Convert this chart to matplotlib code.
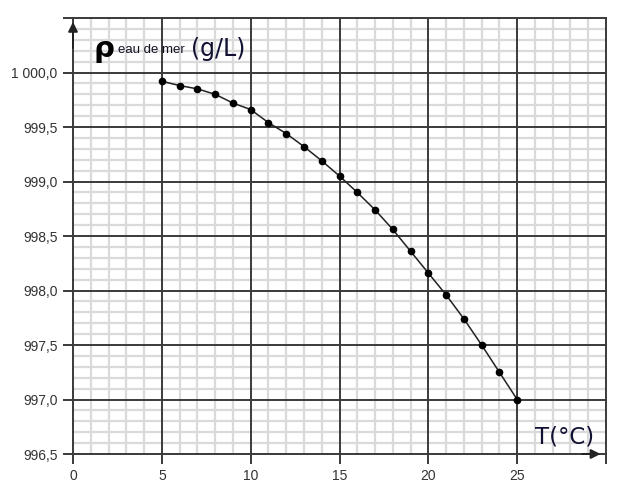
import matplotlib
matplotlib.use("Agg")
import matplotlib.pyplot as plt
import numpy as np
from matplotlib.ticker import MultipleLocator, FuncFormatter

# Data
temperature = [5, 6, 7, 8, 9, 10, 11, 12, 13, 14, 15, 16, 17, 18, 19, 20, 21, 22, 23, 24, 25]
density = [999.92, 999.88, 999.85, 999.80, 999.72, 999.66, 999.54, 999.44, 999.32, 999.19,
           999.05, 998.90, 998.74, 998.56, 998.36, 998.16, 997.96, 997.74, 997.50, 997.25, 997.00]
x_tick_labels = ["0", "5", "10", "15", "20", "25"]
y_tick_labels = ["996,5", "997,0", "997,5", "998,0", "998,5", "999,0", "999,5", "1 000,0"]

fig = plt.figure(figsize=(6.21, 4.86), dpi=100)
ax = fig.add_axes([73/621, 1-454/486, (606-73)/621, (454-18)/486])
ax.set_xlim(0, 30)
ax.set_ylim(996.5, 1000.5)

ax.xaxis.set_major_locator(MultipleLocator(5))
ax.yaxis.set_major_locator(MultipleLocator(0.5))

def xfmt(v, pos):
    i = int(round(v / 5))
    return x_tick_labels[i] if 0 <= i < len(x_tick_labels) and abs(v - 5*i) < 1e-6 else ""

def yfmt(v, pos):
    i = int(round((v - 996.5) / 0.5))
    return y_tick_labels[i] if 0 <= i < len(y_tick_labels) else ""

ax.xaxis.set_major_formatter(FuncFormatter(xfmt))
ax.yaxis.set_major_formatter(FuncFormatter(yfmt))

# grid: minor light first, then major dark on top
for xv in np.arange(1, 30, 1):
    if xv % 5:
        ax.axvline(xv, color="#dadada", linewidth=1.6, zorder=0.5)
for yv in np.arange(996.6, 1000.5, 0.1):
    if abs((yv - 996.5) / 0.5 - round((yv - 996.5) / 0.5)) > 1e-6:
        ax.axhline(yv, color="#dadada", linewidth=1.6, zorder=0.5)
for xv in np.arange(5, 30, 5):
    ax.axvline(xv, color="#3a3a3a", linewidth=1.4, zorder=1)
for yv in np.arange(997.0, 1000.5, 0.5):
    ax.axhline(yv, color="#3a3a3a", linewidth=1.4, zorder=1)

for s in ax.spines.values():
    s.set_color("#3a3a3a")
    s.set_linewidth(1.4)

ax.tick_params(which="major", length=7, width=1.4, color="#3a3a3a",
               labelsize=10, labelcolor="#333333", pad=4)
for lab in ax.get_xticklabels() + ax.get_yticklabels():
    lab.set_fontfamily("Liberation Sans")

ax.plot(temperature, density, color="#222222", linewidth=1.1, marker="o",
        markersize=4.5, markerfacecolor="black", markeredgecolor="black", zorder=3)

# axis arrows
ax.annotate("", xy=(0, 1000.49), xytext=(0, 1000.2),
            arrowprops=dict(arrowstyle="-|>", color="#222222", lw=1.4, mutation_scale=14),
            annotation_clip=False)
ax.annotate("", xy=(29.85, 996.5), xytext=(28.5, 996.5),
            arrowprops=dict(arrowstyle="-|>", color="#222222", lw=1.4, mutation_scale=14),
            annotation_clip=False)

# labels
fig.text(94/621, 1-57/486, "ρ", fontsize=21, fontweight="bold", color="black",
         family="DejaVu Sans")
fig.text(118/621, 1-53/486, "eau de mer", fontsize=9.5, color="#111122",
         family="Liberation Sans")
fig.text(191/621, 1-56/486, "(g/L)", fontsize=17, color="#111133",
         family="DejaVu Sans")
fig.text(535/621, 1-443/486, "T(°C)", fontsize=16.5, color="#111133",
         family="DejaVu Sans")

fig.savefig("out.png", dpi=100)
